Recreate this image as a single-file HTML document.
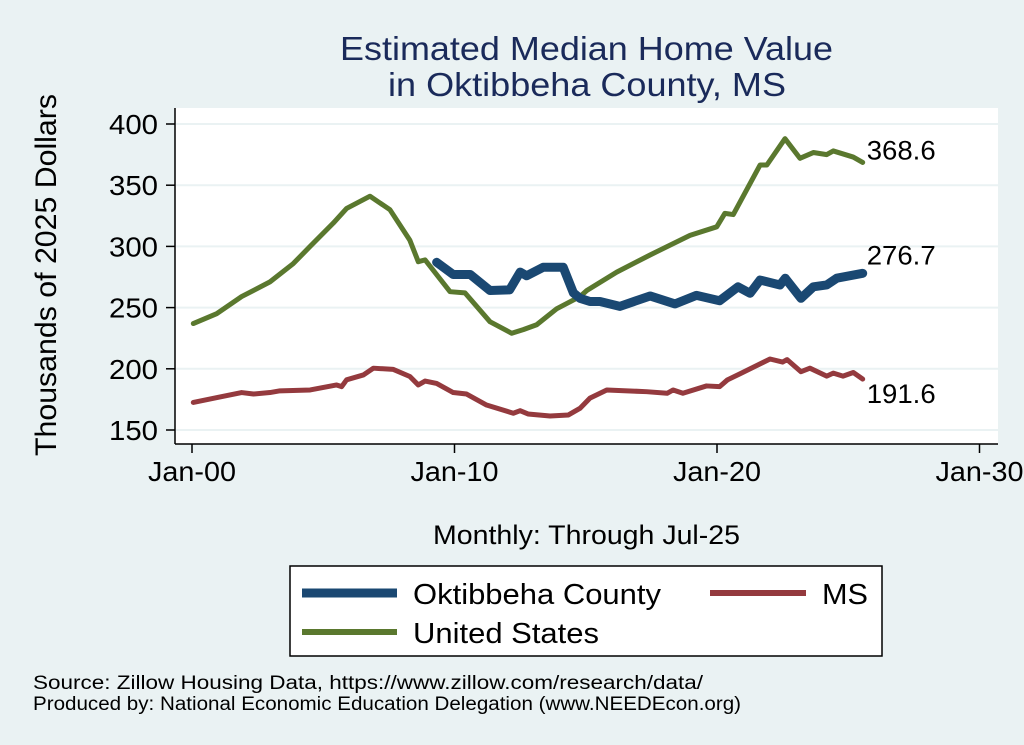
<!DOCTYPE html>
<html><head><meta charset="utf-8"><style>
body{margin:0;background:#eaf2f3;}
svg{display:block;font-family:"Liberation Sans",Arial,sans-serif;}
</style></head><body>
<svg id="chart" width="1024" height="745" viewBox="0 0 1024 745">
<rect x="0" y="0" width="1024" height="745" fill="#eaf2f3"/>
<text x="340" y="60" font-size="33" fill="#1a2a5a" textLength="493" lengthAdjust="spacingAndGlyphs">Estimated Median Home Value</text>
<text x="388" y="96" font-size="33" fill="#1a2a5a" textLength="398" lengthAdjust="spacingAndGlyphs">in Oktibbeha County, MS</text>
<rect x="175" y="108" width="823" height="336" fill="#ffffff"/>
<g id="grid"></g>
<g id="series"></g>
<g id="axes"></g>
<text transform="translate(56,275) rotate(-90)" font-size="30" text-anchor="middle" fill="#000" textLength="362" lengthAdjust="spacingAndGlyphs">Thousands of 2025 Dollars</text>
<text x="433" y="544" font-size="27" fill="#000" textLength="307" lengthAdjust="spacingAndGlyphs">Monthly: Through Jul-25</text>
<g>
<rect x="290" y="566" width="592" height="90" fill="#fff" stroke="#000" stroke-width="1.5"/>
<line x1="302" y1="593" x2="397" y2="593" stroke="#1a4872" stroke-width="9"/>
<text x="413" y="604" font-size="29" fill="#000" textLength="248" lengthAdjust="spacingAndGlyphs">Oktibbeha County</text>
<line x1="710" y1="593" x2="806" y2="593" stroke="#943a3e" stroke-width="6"/>
<text x="822" y="604" font-size="29" fill="#000" textLength="46" lengthAdjust="spacingAndGlyphs">MS</text>
<line x1="302" y1="632" x2="397" y2="632" stroke="#5a782e" stroke-width="6"/>
<text x="413" y="643" font-size="29" fill="#000" textLength="186" lengthAdjust="spacingAndGlyphs">United States</text>
</g>
<text x="33" y="689" font-size="19" fill="#000" textLength="670" lengthAdjust="spacingAndGlyphs">Source: Zillow Housing Data, https://www.zillow.com/research/data/</text>
<text x="33" y="710" font-size="19" fill="#000" textLength="708" lengthAdjust="spacingAndGlyphs">Produced by: National Economic Education Delegation (www.NEEDEcon.org)</text>
</svg>
<script>
const yTicks=[150,200,250,300,350,400];
const xTickYears=[0,10,20,30];
const xTickLabels=["Jan-00","Jan-10","Jan-20","Jan-30"];
const usYears=[0.05,0.94,1.89,2.97,3.86,4.5,5.38,5.89,6.78,7.54,8.3,8.62,8.88,9.83,10.4,11.35,12.18,12.62,13.13,13.89,14.78,15.04,16.18,17.45,18.97,19.99,20.3,20.62,21.64,21.9,22.59,23.16,23.67,24.18,24.43,25.19,25.55];
const usValues=[237,245,259,271,286,300,319,331,341,330,305,287.5,289,263,262,238.5,229,232,236,249,259,264,279,293,309,316,327,326,366.5,366.5,388,372,376.7,375,378,373,368.6];
const okYears=[9.32,9.95,10.6,11.35,12.1,12.5,12.75,13.38,14.14,14.53,14.78,15.16,15.54,16.3,17.45,18.4,19.22,20.1,20.8,21.26,21.64,22.4,22.6,23.2,23.67,24.18,24.56,25.55];
const okValues=[287,277,277,264,264.5,279,276,283,283,262,257.6,255,255,251,259.5,253,260,255.6,267,261.7,272.5,268.5,274,257.6,267,268.5,274,278];
const msYears=[0.05,1.07,1.89,2.34,2.97,3.35,4.5,5.51,5.7,5.89,6.53,6.91,7.67,8.3,8.62,8.88,9.32,9.95,10.46,11.22,12.24,12.5,12.8,13.64,14.34,14.78,15.16,15.8,17.32,18.1,18.33,18.7,19.6,20.1,20.4,20.88,22.02,22.5,22.67,23.2,23.54,24.18,24.43,24.8,25.19,25.55];
const msValues=[172.5,177,180.6,179.4,180.6,182,182.7,186.8,185.4,191,195,200.5,199.5,193.7,186.8,190,188,180.6,179.4,170.4,163.7,165.8,163.1,161.4,162.3,167.7,176,182.7,181.3,180,182.7,180,186,185.4,191,196,208,205.5,207.5,197.6,200.5,194,196.5,194,197,191.6];
const endLabels=["368.6","276.7","191.6"];

const NS="http://www.w3.org/2000/svg";
function xS(yr){return 192+yr*26.25;}
function yS(v){return 124+(400-v)*1.224;}
function mk(tag,attrs,parent){const e=document.createElementNS(NS,tag);for(const k in attrs)e.setAttribute(k,attrs[k]);parent.appendChild(e);return e;}
const grid=document.getElementById('grid'),axes=document.getElementById('axes'),ser=document.getElementById('series');
yTicks.forEach(v=>{
 const g=mk('line',{x1:176,x2:998,y1:yS(v),y2:yS(v),stroke:'#eaf2f3','stroke-width':2},grid);
 
 
 const t=mk('line',{x1:166,x2:175,y1:yS(v),y2:yS(v),stroke:'#000','stroke-width':1.5},axes);
 
 
 const l=mk('text',{x:158,y:yS(v)+10,'font-size':28,'text-anchor':'end',fill:'#000',textLength:49,lengthAdjust:'spacingAndGlyphs'},axes);
 l.textContent=v;
 
 
});
const ya=mk('line',{x1:175,x2:175,y1:108,y2:444,stroke:'#000','stroke-width':1.5},axes);


const xa=mk('line',{x1:175,x2:998,y1:444,y2:444,stroke:'#000','stroke-width':1.5},axes);


xTickYears.forEach((yr,i)=>{
 const t=mk('line',{x1:xS(yr),x2:xS(yr),y1:444,y2:453,stroke:'#000','stroke-width':1.5},axes);
 
 
 const l=mk('text',{x:xS(yr),y:481,'font-size':28,'text-anchor':'middle',fill:'#000',textLength:88,lengthAdjust:'spacingAndGlyphs'},axes);
 l.textContent=xTickLabels[i];
 
 
});
function line(xs,vs,color,w,name){
 const p=mk('polyline',{points:xs.map((x,i)=>xS(x)+','+yS(vs[i])).join(' '),fill:'none',stroke:color,'stroke-width':w,'stroke-linejoin':'round','stroke-linecap':'round'},ser);
 
 
}
line(msYears,msValues,'#943a3e',5,'series-ms');
line(usYears,usValues,'#5a782e',5,'series-united-states');
line(okYears,okValues,'#1a4872',9,'series-oktibbeha');
const ends=[[usYears,usValues,-3,'end-label-us'],[okYears,okValues,-9,'end-label-oktibbeha'],[msYears,msValues,24,'end-label-ms']];
ends.forEach((e,i)=>{
 const n=e[0].length-1;
 const t=mk('text',{x:xS(e[0][n])+4,y:yS(e[1][n])+e[2],'font-size':27,fill:'#000',textLength:69,lengthAdjust:'spacingAndGlyphs'},ser);
 t.textContent=endLabels[i];
 
 
});
</script>
</body></html>
